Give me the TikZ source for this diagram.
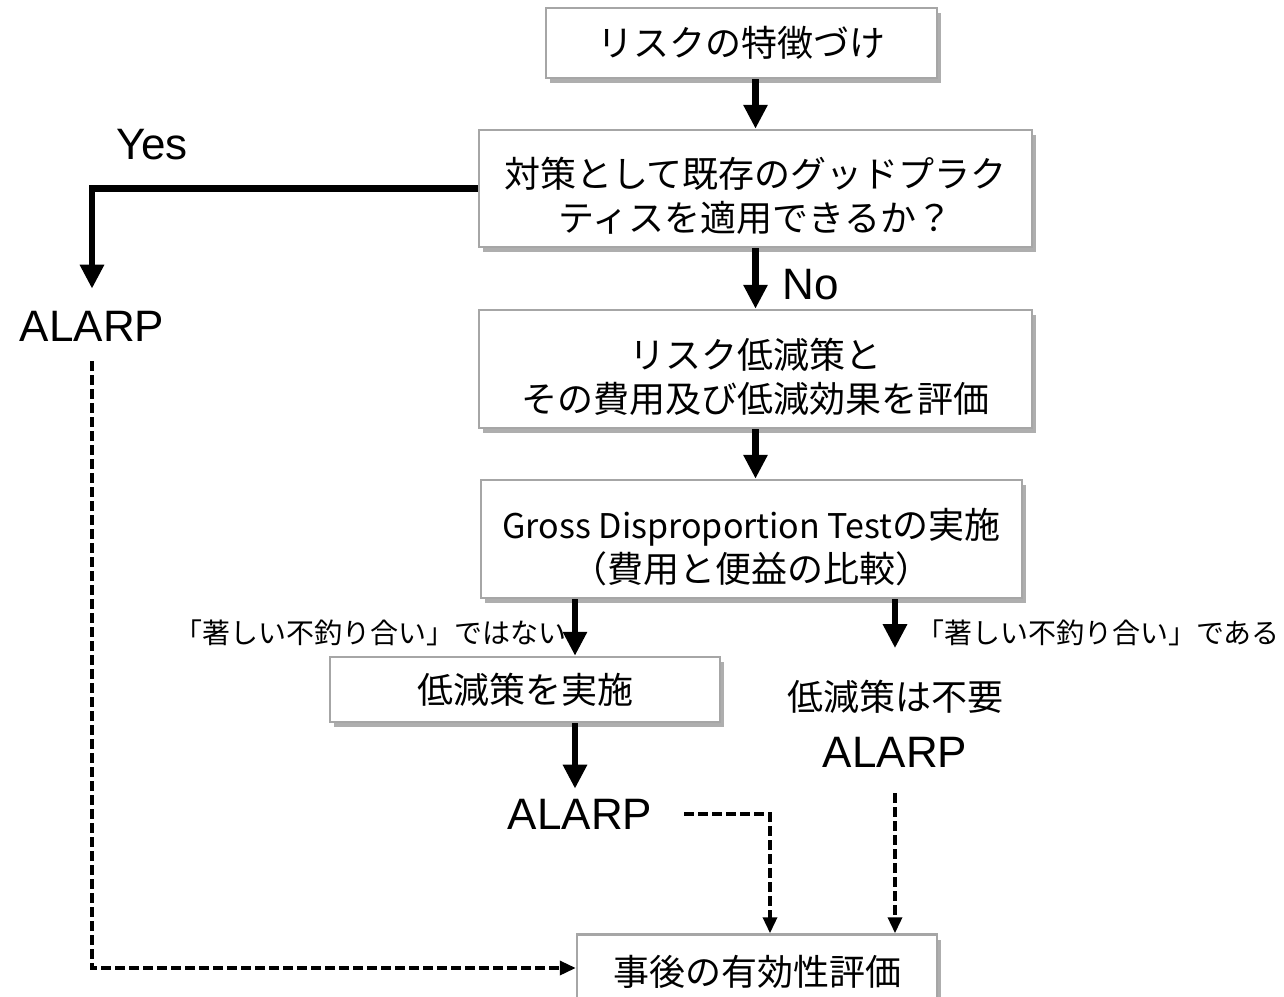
\documentclass[tikz,border=0pt]{standalone}
\usepackage{fontspec}
\setmainfont{Liberation Sans}
\newfontfamily\jp{Noto Sans CJK JP}
\usetikzlibrary{arrows.meta,shadows,calc}
\definecolor{boxgray}{HTML}{A6A6A6}
\newcommand{\dropline}{\rule{0pt}{46pt}}
\begin{document}
\begin{tikzpicture}[x=1pt,y=-1pt,
  box/.style={draw=boxgray, line width=2.5pt, fill=white,
    drop shadow={shadow xshift=4pt, shadow yshift=-5pt, opacity=0.45, fill=black!70},
    inner sep=0pt, align=center, font=\jp\fontsize{36}{44}\selectfont},
  jtext/.style={inner sep=0pt, align=center, font=\jp\fontsize{36}{44}\selectfont},
  small/.style={inner sep=0pt, font=\jp\fontsize{28}{32}\selectfont},
  latin/.style={inner sep=0pt, font=\fontsize{44}{50}\selectfont},
  arr/.style={line width=6.5pt, -{Triangle[width=23pt,length=24pt]}},
  darr/.style={line width=3.5pt, dash pattern=on 10pt off 4pt, -{Triangle[width=14pt,length=16pt]}}
]
\useasboundingbox (0,0) rectangle (1284,996);
\clip (0,0) rectangle (1284,996);

% boxes
\node[box, minimum width=391pt, minimum height=70pt] (b1) at (741.5,43) {リスクの特徴づけ};
\node[box, minimum width=553pt, minimum height=117pt] (b2) at (755.5,188.5) {\dropline 対策として既存のグッドプラク\\ティスを適用できるか？};
\node[box, minimum width=553pt, minimum height=118pt] (b3) at (755.5,369) {\dropline リスク低減策と\\その費用及び低減効果を評価};
\node[box, minimum width=541pt, minimum height=118pt] (b4) at (751.5,539) {\dropline{\fontsize{34}{44}\selectfont Gross Disproportion Test}の実施\\（費用と便益の比較）};
\node[box, minimum width=390pt, minimum height=65pt] (b5) at (525,689.5) {低減策を実施};
\node[box, minimum width=360pt, minimum height=75pt] (b6) at (757,972) {事後の有効性評価};

% text labels
\node[latin] (yes) at (152,145) {Yes};
\node[latin] (no) at (811,285) {No};
\node[latin] (alarp1) at (92,326) {ALARP};
\node[latin] (alarp2) at (580,814) {ALARP};
\node[latin] (alarp3) at (895,752) {ALARP};
\node[jtext] (t1) at (895,697) {低減策は不要};
\node[small, anchor=east] (lab1) at (567,633) {「著しい不釣り合い」ではない};
\node[small, anchor=west] (lab2) at (916,633) {「著しい不釣り合い」である};

\coordinate (lx) at (575,0);
\coordinate (mx) at (770,0);

% solid arrows
\draw[arr] (b2.north |- b1.south) -- (b2.north);
\draw[arr] (b2.west) -| ([yshift=22pt]alarp1.north);
\draw[arr] (b2.south) -- (b3.north);
\draw[arr] (b3.south) -- (b3.south |- b4.north);
\draw[arr] (b4.south -| lx) -- (b5.north -| lx);
\draw[arr] (b4.south -| t1.north) -- ([yshift=32pt]t1.north);
\draw[arr] (b5.south -| lx) -- ([yshift=10pt]alarp2.north -| lx);

% dashed arrows
\draw[darr] ([xshift=32pt]alarp2.east) -| (b6.north -| mx);
\draw[darr] ([yshift=-26pt]alarp3.south) -- (b6.north -| alarp3.south);
\draw[darr] ([yshift=-20pt]alarp1.south) |- ([yshift=4pt]b6.west);
\end{tikzpicture}
\end{document}
